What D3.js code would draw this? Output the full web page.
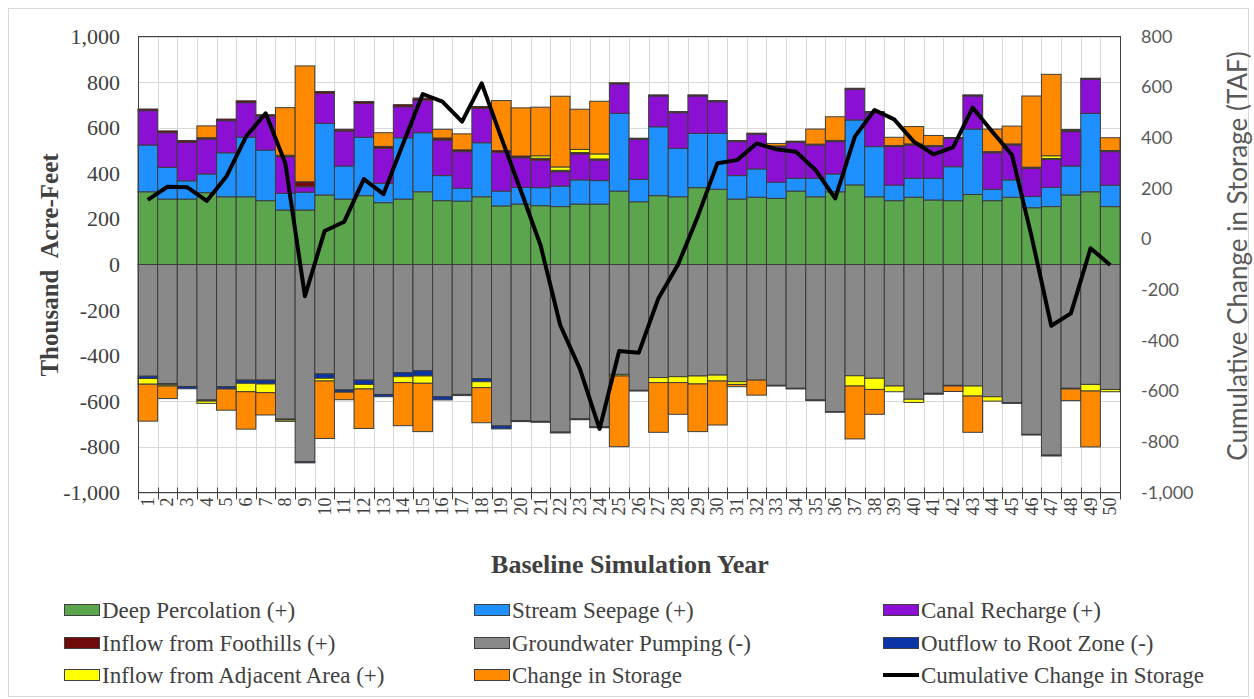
<!DOCTYPE html>
<html><head><meta charset="utf-8">
<script src="https://cdn.jsdelivr.net/npm/d3@7"></script>
<style>body{margin:0;background:#fff}</style>
</head><body><svg id="c" width="1254" height="699"></svg>
<script>
const years = [1,2,3,4,5,6,7,8,9,10,11,12,13,14,15,16,17,18,19,20,21,22,23,24,25,26,27,28,29,30,31,32,33,34,35,36,37,38,39,40,41,42,43,44,45,46,47,48,49,50];
const deepPercolation = [319,287,287,315,297,297,280,239,239,305,287,302,271,287,319,280,278,297,257,265,258,254,265,265,322,275,302,297,337,330,287,295,290,322,297,319,349,297,280,295,283,280,307,280,295,249,254,305,319,254];
const streamSeepage = [205,139,80,82,193,261,222,73,78,314,145,256,85,269,259,110,56,237,65,73,79,90,106,103,341,98,302,212,238,245,103,124,71,56,81,78,285,220,68,83,95,149,287,50,76,49,84,127,344,94];
const canalRecharge = [151,152,169,153,141,152,149,161,24,132,154,149,154,136,143,156,161,151,170,130,121,63,114,90,129,176,135,157,164,139,149,152,156,158,146,142,134,149,169,146,139,124,145,160,153,124,123,151,149,147];
const inflowFoothills = [7,8,8,6,7,8,6,6,22,8,7,8,8,9,9,9,8,8,8,8,8,6,6,5,5,5,5,5,5,5,5,5,3,5,4,5,5,5,5,5,5,4,5,5,5,5,4,5,5,5];
const groundwaterPumping = [-490,-522,-535,-594,-536,-507,-507,-678,-865,-480,-550,-507,-570,-474,-466,-580,-570,-500,-708,-685,-688,-735,-677,-712,-482,-552,-496,-492,-489,-485,-514,-507,-530,-543,-594,-645,-488,-499,-533,-591,-565,-530,-533,-580,-606,-745,-836,-543,-526,-548];
const outflowRootZone = [-10,-5,-10,-5,-10,-14,-17,-4,-5,-19,-10,-19,-10,-18,-23,-14,-5,-14,-13,-4,-4,-4,-4,-4,0,-3,0,0,0,0,0,0,-3,-3,-3,-3,0,0,0,0,-4,-3,0,0,-3,-3,-4,-3,0,0];
const inflowAdjacent = [-25,-6,0,-10,0,-37,-38,-6,0,-12,0,-20,0,-26,-32,0,0,-26,0,0,11,15,14,22,-7,0,-22,-26,-35,-26,-12,0,0,0,0,0,-45,-49,-25,-14,0,0,-44,-19,0,0,12,4,-29,-10];
const changeStorage = [-162,-55,0,52,-93,-164,-98,209,508,-252,-33,-173,60,-189,-212,38,70,-154,219,211,213,310,176,231,-310,0,-218,-139,-209,-193,-10,-66,11,0,66,104,-232,-109,36,76,44,-24,-159,99,78,312,357,-51,-245,56];
const cumulativeStorage = [155,207,205,151,247,405,497,300,-225,32,69,237,178,378,573,543,464,615,400,190,-25,-340,-512,-749,-441,-448,-233,-100,89,300,312,378,355,345,273,161,405,510,473,385,335,362,519,424,332,10,-342,-293,-36,-102];
const leftTicks = [-1000,-800,-600,-400,-200,0,200,400,600,800,1000];
const rightTicks = [-1000,-800,-600,-400,-200,0,200,400,600,800];

const seriesInfo = [
  {key:'dp', name:'Deep Percolation (+)', color:'#5ba64c', values:deepPercolation},
  {key:'ss', name:'Stream Seepage (+)', color:'#1e90ff', values:streamSeepage},
  {key:'cr', name:'Canal Recharge (+)', color:'#8b10d4', values:canalRecharge},
  {key:'if', name:'Inflow from Foothills (+)', color:'#6e0a0a', values:inflowFoothills},
  {key:'gp', name:'Groundwater Pumping (-)', color:'#898989', values:groundwaterPumping},
  {key:'orz', name:'Outflow to Root Zone (-)', color:'#0b35a6', values:outflowRootZone},
  {key:'iaa', name:'Inflow from Adjacent Area (+)', color:'#ffff00', values:inflowAdjacent},
  {key:'cs', name:'Change in Storage', color:'#ff8a00', values:changeStorage}
];

const W=1254,H=699;
const svg = d3.select('#c');
svg.append('rect').attr('width',W).attr('height',H).attr('fill','#fff');
svg.append('rect').attr('x',8.5).attr('y',8.5).attr('width',1240).attr('height',688).attr('fill','none').attr('stroke','#d9d9d9');

const m = {l:138,r:1120,t:36.5,b:492.5};
const x = d3.scaleBand().domain(years).range([m.l,m.r]).padding(0);
const bw = x.bandwidth();
const yL = d3.scaleLinear().domain([-1000,1000]).range([m.b,m.t]);
const yR = d3.scaleLinear().domain([-1000,800]).range([m.b,m.t]);
const fmt = d => (d<0?'-':'') + d3.format(',')(Math.abs(d));

// gridlines
const grid = svg.append('g').attr('stroke','#d9d9d9').attr('stroke-width',1);
grid.selectAll('line.h').data(leftTicks).join('line').attr('class','h')
  .attr('x1',m.l).attr('x2',m.r).attr('y1',d=>Math.round(yL(d))+0.5).attr('y2',d=>Math.round(yL(d))+0.5);
grid.selectAll('line.v').data(years.slice(1)).join('line').attr('class','v')
  .attr('x1',d=>Math.round(x(d))+0.5).attr('x2',d=>Math.round(x(d))+0.5).attr('y1',m.t).attr('y2',m.b);

// stacked bars
const rows = years.map((yr,i)=>{const o={year:yr}; seriesInfo.forEach(s=>o[s.key]=s.values[i]); return o;});
const stack = d3.stack().keys(seriesInfo.map(s=>s.key)).offset(d3.stackOffsetDiverging);
const series = stack(rows);
const colorOf = Object.fromEntries(seriesInfo.map(s=>[s.key,s.color]));
svg.append('g').selectAll('g').data(series).join('g').attr('fill',d=>colorOf[d.key])
  .selectAll('rect').data(d=>d.filter(p=>p[1]!==p[0])).join('rect')
  .attr('x',d=>x(d.data.year)).attr('width',bw)
  .attr('y',d=>yL(Math.max(d[0],d[1])))
  .attr('height',d=>Math.abs(yL(d[0])-yL(d[1])))
  .attr('stroke','#3c3c3c').attr('stroke-width',1);

// cumulative line
const line = d3.line().x((d,i)=>x(years[i])+bw/2).y(d=>yR(d));
svg.append('path').datum(cumulativeStorage).attr('d',line).attr('fill','none')
  .attr('stroke','#000').attr('stroke-width',4).attr('stroke-linejoin','round');

// frame
svg.append('rect').attr('x',m.l+0.5).attr('y',m.t).attr('width',m.r-m.l).attr('height',m.b-m.t)
  .attr('fill','none').attr('stroke','#404040').attr('stroke-width',1);

// left axis
const ax = svg.append('g').attr('transform',`translate(${m.l},0)`)
  .call(d3.axisLeft(yL).tickValues(leftTicks).tickSize(0).tickPadding(18).tickFormat(fmt));
ax.select('.domain').remove();
ax.selectAll('text').attr('font-family','"Liberation Serif", serif').attr('font-size',22).attr('fill','#404040');

// right axis
const axr = svg.append('g').attr('transform',`translate(${m.r},0)`)
  .call(d3.axisRight(yR).tickValues(rightTicks).tickSize(0).tickPadding(21).tickFormat(fmt));
axr.select('.domain').remove();
axr.selectAll('text').attr('font-family','Lato, "Open Sans", sans-serif').attr('font-size',18).attr('fill','#595959');

// bottom ticks (cross) at band boundaries
const bounds = years.map(d=>x(d)).concat([m.r]);
svg.append('g').attr('stroke','#404040').selectAll('line').data(bounds).join('line')
  .attr('x1',d=>Math.round(d)+0.5).attr('x2',d=>Math.round(d)+0.5).attr('y1',m.b-5).attr('y2',m.b+7);
// bottom labels
const axb = svg.append('g').attr('transform',`translate(0,${m.b})`)
  .call(d3.axisBottom(x).tickSize(0).tickPadding(0));
axb.select('.domain').remove();
axb.selectAll('text').attr('font-family','"Liberation Serif", serif').attr('font-size',18).attr('fill','#404040')
  .attr('text-anchor','end').attr('dy',null).attr('y',0)
  .attr('transform','translate(0,5) rotate(-90)').attr('dominant-baseline','central');

// axis titles
svg.append('text').attr('transform','translate(58,265) rotate(-90)').attr('text-anchor','middle')
  .attr('font-family','"Liberation Serif", serif').attr('font-weight','bold').attr('font-size',25)
  .attr('fill','#404040').style('white-space','pre').text('Thousand  Acre-Feet');
svg.append('text').attr('transform','translate(1247,256) rotate(-90)').attr('text-anchor','middle')
  .attr('font-family','Lato, "Open Sans", sans-serif').attr('font-size',26)
  .attr('fill','#595959').text('Cumulative Change in Storage (TAF)');
svg.append('text').attr('x',630).attr('y',573).attr('text-anchor','middle')
  .attr('font-family','"Liberation Serif", serif').attr('font-weight','bold').attr('font-size',26)
  .attr('fill','#404040').text('Baseline Simulation Year');

// legend
const legendItems = [
  {name:'Deep Percolation (+)', color:'#5ba64c', col:0,row:0},
  {name:'Stream Seepage (+)', color:'#1e90ff', col:1,row:0},
  {name:'Canal Recharge (+)', color:'#8b10d4', col:2,row:0},
  {name:'Inflow from Foothills (+)', color:'#6e0a0a', col:0,row:1},
  {name:'Groundwater Pumping (-)', color:'#898989', col:1,row:1},
  {name:'Outflow to Root Zone (-)', color:'#0b35a6', col:2,row:1},
  {name:'Inflow from Adjacent Area (+)', color:'#ffff00', col:0,row:2},
  {name:'Change in Storage', color:'#ff8a00', col:1,row:2},
  {name:'Cumulative Change in Storage', color:'#000', col:2,row:2, line:true}
];
const colX = [64,474,883], rowY = [610,643,675];
const lg = svg.append('g');
legendItems.forEach(it=>{
  const gx = colX[it.col], gy = rowY[it.row];
  if(it.line){
    lg.append('line').attr('x1',gx).attr('x2',gx+36).attr('y1',gy).attr('y2',gy).attr('stroke','#000').attr('stroke-width',4);
  } else {
    lg.append('rect').attr('x',gx+0.5).attr('y',gy-5.5).attr('width',35).attr('height',11).attr('fill',it.color).attr('stroke','#404040');
  }
  lg.append('text').attr('x',gx+38).attr('y',gy).attr('dominant-baseline','central')
    .attr('font-family','"Liberation Serif", serif').attr('font-size',23).attr('fill','#404040').text(it.name);
});
</script></body></html>
